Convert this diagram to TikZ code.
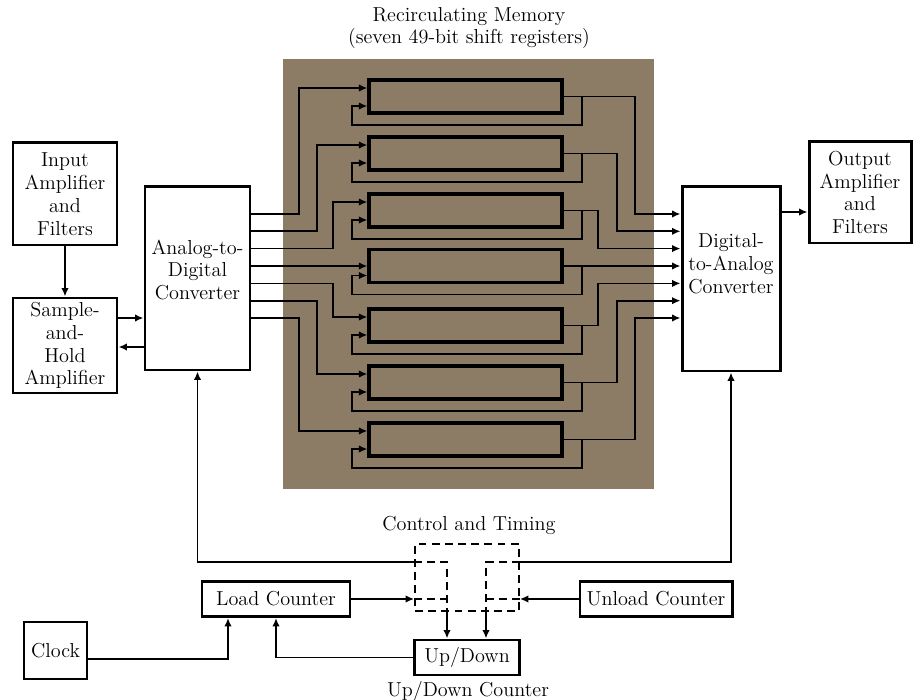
\documentclass[tikz,border=0pt]{standalone}
\usetikzlibrary{arrows.meta}
\definecolor{memfill}{RGB}{140,123,101}

\begin{document}
\begin{tikzpicture}[x=0.2mm, y=-0.2mm, font=\fontsize{11.5}{13}\selectfont, >={Latex[length=1.7mm,width=1.5mm]}]
\tikzstyle{box}=[draw, line width=1.7pt, align=center, inner sep=0pt]
\tikzstyle{reg}=[draw, line width=1.8pt, minimum width=38.6mm, minimum height=6.6mm, inner sep=0pt]
\tikzstyle{wire}=[line width=1pt]
\tikzstyle{ctlpart}=[line width=1pt, dash pattern=on 4.5pt off 3pt]
\useasboundingbox (0,0) rectangle (916,700);
\node[align=center] (title) at (469,28) {Recirculating Memory\\(seven 49-bit shift registers)};
\node[fill=memfill, minimum width=74.2mm, minimum height=86mm, inner sep=0pt] (mem) at (468.5,274) {};
\node[reg] (r1) at (465.5,96.5) {}; \node[reg] (r2) at (465.5,153.5) {}; \node[reg] (r3) at (465.5,210.5) {}; \node[reg] (r4) at (465.5,266) {};
\node[reg] (r5) at (465.5,325.5) {}; \node[reg] (r6) at (465.5,382.5) {}; \node[reg] (r7) at (465.5,439.5) {};
\node[box, minimum width=20.8mm, minimum height=20.4mm] (inamp) at (65,194) {Input\\Amplifier\\and\\Filters};
\node[box, minimum width=20.8mm, minimum height=19mm] (sh) at (65,345.5) {Sample-\\and-\\Hold\\Amplifier};
\node[box, minimum width=21mm, minimum height=36.6mm] (adc) at (197.5,278.5) {};
\node[align=center] (adclbl) at (197.5,270) {Analog-to-\\Digital\\Converter};
\node[box, minimum width=19.6mm, minimum height=36.8mm] (dac) at (731,279) {};
\node[align=center] (daclbl) at (731,264) {Digital-\\to-Analog\\Converter};
\node[box, minimum width=20.4mm, minimum height=20.2mm] (outamp) at (860,192.5) {Output\\Amplifier\\and\\Filters};
\node (ctllbl) at (469,525) {Control and Timing};
\node[ctlpart, draw, minimum width=20.8mm, minimum height=13.4mm, inner sep=0pt] (ctl) at (467,577.5) {};
\node[box, minimum width=29.6mm, minimum height=7mm] (load) at (276,599) {Load Counter};
\node[box, minimum width=30.4mm, minimum height=7mm] (unload) at (656,599) {Unload Counter};
\node[box, minimum width=21mm, minimum height=7mm] (updown) at (467,657.5) {Up/Down};
\node (udlbl) at (468,691) {Up/Down Counter};
\node[box, minimum width=12.6mm, minimum height=11.4mm] (clock) at (55.5,650.5) {Clock};
\coordinate (cl) at (447,611);
\coordinate (cr) at (486,611);
\draw[wire,->] (inamp.south) -- (sh.north);
\draw[wire,->] (sh.east |- 0,318) -- (adc.west |- 0,318);
\draw[wire,->] (adc.west |- 0,347) -- (sh.east |- 0,347);
\draw[wire,->] (dac.east |- 0,212) -- (outamp.west |- 0,212);
\draw[wire,->] (adc.east |- 0,214) -| (299,88) -- (r1.west |- 0,88);
\draw[wire,->] (adc.east |- 0,231.3) -| (317,145) -- (r2.west |- 0,145);
\draw[wire,->] (adc.east |- 0,248.6) -| (333,202) -- (r3.west |- 0,202);
\draw[wire,->] (adc.east |- 0,266) -- (r4.west);
\draw[wire,->] (adc.east |- 0,283.4) -| (333,317) -- (r5.west |- 0,317);
\draw[wire,->] (adc.east |- 0,300.7) -| (317,374) -- (r6.west |- 0,374);
\draw[wire,->] (adc.east |- 0,318) -| (299,431) -- (r7.west |- 0,431);
\draw[wire,->] (r1.east -| 582,0) |- (352,125) |- (r1.west |- 0,106);
\draw[wire,->] (r2.east -| 582,0) |- (352,182) |- (r2.west |- 0,163);
\draw[wire,->] (r3.east -| 582,0) |- (352,239) |- (r3.west |- 0,220);
\draw[wire,->] (r4.east -| 582,0) |- (352,294.5) |- (r4.west |- 0,275.5);
\draw[wire,->] (r5.east -| 582,0) |- (352,354) |- (r5.west |- 0,335);
\draw[wire,->] (r6.east -| 582,0) |- (352,411) |- (r6.west |- 0,392);
\draw[wire,->] (r7.east -| 582,0) |- (352,468) |- (r7.west |- 0,449);
\draw[wire,->] (r1.east) -| (635,214) -- (dac.west |- 0,214);
\draw[wire,->] (r2.east) -| (617,231.3) -- (dac.west |- 0,231.3);
\draw[wire,->] (r3.east) -| (598,248.6) -- (dac.west |- 0,248.6);
\draw[wire,->] (r4.east) -- (dac.west |- 0,266);
\draw[wire,->] (r5.east) -| (598,283.4) -- (dac.west |- 0,283.4);
\draw[wire,->] (r6.east) -| (617,300.7) -- (dac.west |- 0,300.7);
\draw[wire,->] (r7.east) -| (635,318) -- (dac.west |- 0,318);
\draw[wire,->] (ctl.west |- 0,562) -| (adc.south);
\draw[wire,->] (ctl.east |- 0,562) -| (dac.south);
\draw[wire,->] (load.east) -- (ctl.west |- load.east);
\draw[wire,->] (unload.west) -- (ctl.east |- unload.west);
\draw[ctlpart] (ctl.west |- 0,562) -| (cl);
\draw[ctlpart] (ctl.west |- 0,599) -- (cl |- 0,599);
\draw[ctlpart] (ctl.east |- 0,562) -| (cr);
\draw[ctlpart] (ctl.east |- 0,599) -- (cr |- 0,599);
\draw[wire,->] (cl) -- (cl |- updown.north);
\draw[wire,->] (cr) -- (cr |- updown.north);
\draw[wire,->] (updown.west) -| (load.south);
\draw[wire,->] (clock.east |- 0,659) -| ([xshift=-9.6mm]load.south);
\end{tikzpicture}
\end{document}
